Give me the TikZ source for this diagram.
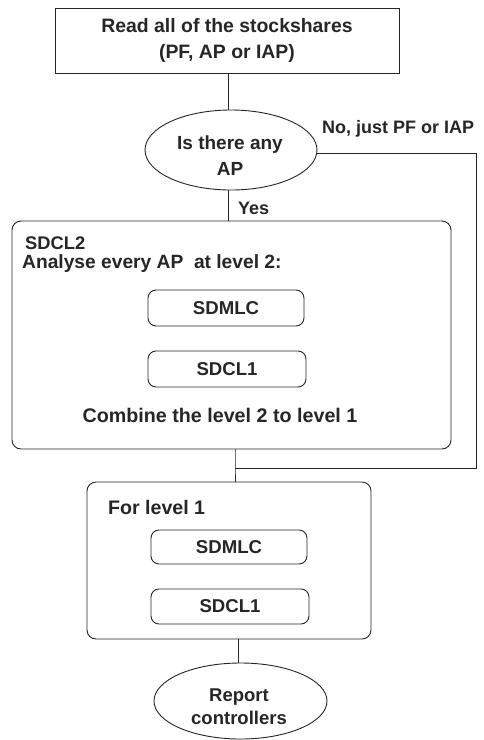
\documentclass[tikz,border=0pt]{standalone}
\usepackage{fontspec}
\setmainfont{Liberation Sans}
\usetikzlibrary{shapes.geometric}
\newcommand{\fsz}[2]{\fontsize{#1}{#2}\selectfont\bfseries}
\tikzset{
  every node/.style={font=\fsz{19}{26}, text=black!85},
  ln/.style={draw=black!85, line width=0.9pt},
  plainbox/.style={ln, rectangle, inner sep=0pt},
  roundbox/.style={ln, rectangle, rounded corners=9pt, inner sep=0pt},
  smallbox/.style={ln, rectangle, rounded corners=8pt, inner sep=0pt, font=\fsz{18.6}{24}},
  oval/.style={ln, ellipse, inner sep=0pt},
  lbl/.style={inner sep=0pt, anchor=west},
  txt/.style={inner sep=0pt, align=center}
}
\begin{document}
\begin{tikzpicture}[x=1pt, y=-1pt]
\useasboundingbox (0,0) rectangle (483,740);
\fill[white] (0,0) rectangle (483,740);

\node[plainbox, minimum width=344pt, minimum height=65pt, align=center, font=\fsz{19.4}{26}] (read) at (227,40.5)
  {Read all of the stockshares\\(PF, AP or IAP)};

\node[oval, minimum width=172pt, minimum height=80pt] (q) at (231,150) {};
\node[txt] (qt) at (230,156) {Is there any\\AP};

\node[roundbox, minimum width=439pt, minimum height=228pt] (sd2) at (231.5,335) {};
\node[lbl, font=\fsz{18.3}{24}] (sd2t) at (25,243) {SDCL2};
\node[lbl, font=\fsz{19.2}{24}] (ana) at (22,264) {Analyse every AP\ \ at level 2:};
\node[smallbox, minimum width=156pt, minimum height=36pt] (a1) at (226,308) {SDMLC};
\node[smallbox, minimum width=158pt, minimum height=36pt] (a2) at (227,369) {SDCL1};
\node[inner sep=0pt, font=\fsz{19.7}{24}] (comb) at (220,415) {Combine the level 2 to level 1};

\node[roundbox, minimum width=284pt, minimum height=157pt] (l1) at (229,560.5) {};
\node[lbl, font=\fsz{19.6}{24}] (l1t) at (108,507) {For level 1};
\node[smallbox, minimum width=156pt, minimum height=34pt] (b1) at (229,547) {SDMLC};
\node[smallbox, minimum width=158pt, minimum height=35pt] (b2) at (230,606.5) {SDCL1};

\node[oval, minimum width=173pt, minimum height=76pt] (rep) at (240.5,701) {};
\node[txt, font=\fsz{18.5}{23}] (rept) at (239,707) {Report\\controllers};

\node[lbl, font=\fsz{18}{24}] (no) at (322,129) {No, just PF or IAP};
\node[lbl, font=\fsz{18}{24}] (yes) at (238,208) {Yes};

\coordinate (c1) at (228,0);
\coordinate (c2) at (238,0);
\coordinate (j) at (235,468);
\coordinate (corner) at (476,468);

\draw[ln] (read.south -| c1) -- (q.north -| c1);
\draw[ln] (q.south -| c1) -- (sd2.north -| c1);
\draw[ln] (sd2.south -| j) -- (j) -- (j |- l1.north);
\draw[ln] ([yshift=-3pt]q.east) -| (corner) -- (j);
\draw[ln] (l1.south -| c2) -- (rep.north -| c2);
\end{tikzpicture}
\end{document}
